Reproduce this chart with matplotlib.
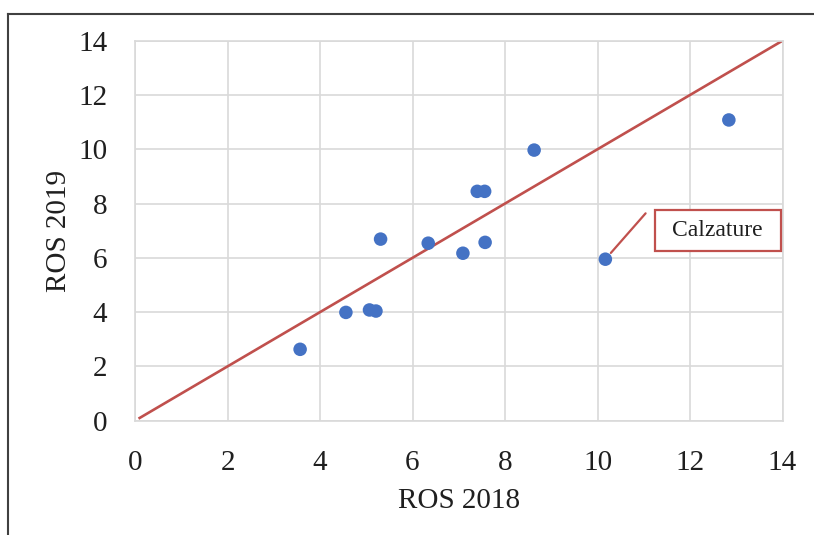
import matplotlib.pyplot as plt
from matplotlib.lines import Line2D
from matplotlib.patches import Rectangle

# ROS 2018 vs ROS 2019 per settore
ros_2018 = [3.57, 4.56, 5.07, 5.21, 5.31, 6.34, 7.09, 7.40, 7.56, 7.57, 8.63, 10.17, 12.84]
ros_2019 = [2.63, 3.99, 4.08, 4.04, 6.69, 6.54, 6.17, 8.45, 8.45, 6.57, 9.97, 5.95, 11.08]

# bisettrice
linea_x = [0.1, 14]
linea_y = [0.1, 14]

etichetta = 'Calzature'
punto_etichetta = (10.17, 5.95)

ticks = [0, 2, 4, 6, 8, 10, 12, 14]

plt.rcParams['font.family'] = ['Liberation Serif', 'DejaVu Serif']
nero = '#1f1f1f'
rosso = '#C0504D'

fig = plt.figure(figsize=(8.14, 5.35), dpi=100)
ax = fig.add_axes([135/814, 1-420.7/535, (782.5-135)/814, (420.7-40.7)/535])

ax.plot(linea_x, linea_y, color=rosso, lw=1.9, zorder=2)
ax.scatter(ros_2018, ros_2019, s=95, color='#4472C4', edgecolors='none', zorder=3)

# etichetta con riquadro e segmento di collegamento
ax.add_patch(Rectangle((11.24, 6.26), 2.72, 1.5, fc='white', ec=rosso, lw=1.6, zorder=4))
ax.text(12.6, 7.0, etichetta, ha='center', va='center', fontsize=17, color=nero, zorder=5)
ax.annotate('', xy=punto_etichetta, xytext=(11.04, 7.64),
            arrowprops=dict(arrowstyle='-', color=rosso, lw=1.6, shrinkA=0, shrinkB=6),
            zorder=4)

ax.set_xlim(0, 14)
ax.set_ylim(0, 14)
ax.set_xticks(ticks)
ax.set_yticks(ticks)
ax.grid(True, color='#d9d9d9', lw=1.2)
ax.set_axisbelow(True)
for s in ax.spines.values():
    s.set_color('#d9d9d9')
    s.set_linewidth(1.2)
ax.tick_params(length=0, labelsize=21, labelcolor=nero)
ax.tick_params(axis='x', pad=21)
ax.tick_params(axis='y', pad=20)

ax.set_xlabel('ROS 2018', fontsize=21, color=nero, labelpad=9)
ax.set_ylabel('ROS 2019', fontsize=21, color=nero, labelpad=4)

# cornice
fig.add_artist(Line2D([8/814, 8/814], [0, 1-14/535], color='#404040', lw=1.5))
fig.add_artist(Line2D([8/814, 1], [1-14/535, 1-14/535], color='#404040', lw=1.5))

fig.savefig('out.png', dpi=100)
